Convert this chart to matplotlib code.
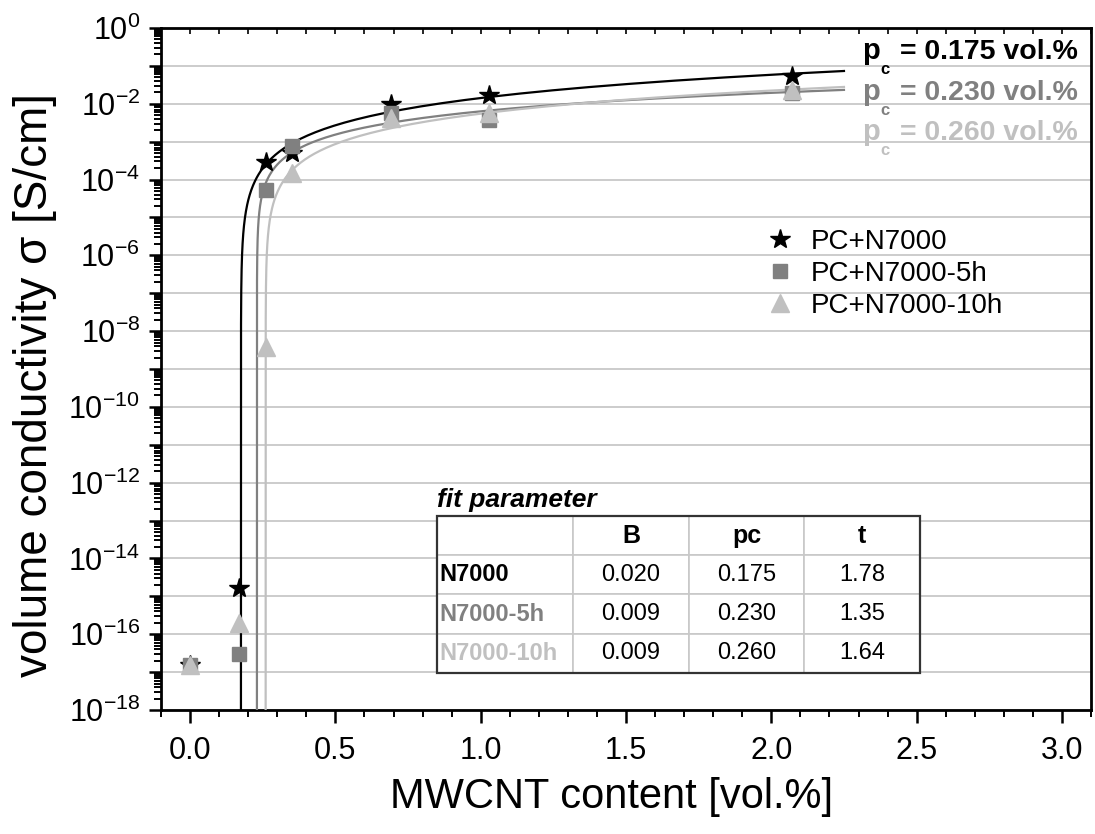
import matplotlib
matplotlib.use("Agg")
import matplotlib.pyplot as plt
import numpy as np
from matplotlib.ticker import LogLocator, MultipleLocator, FuncFormatter, NullFormatter

plt.rcParams["font.family"] = ["Liberation Sans", "DejaVu Sans"]
plt.rcParams["mathtext.fontset"] = "custom"
plt.rcParams["mathtext.rm"] = "Liberation Sans"
plt.rcParams["mathtext.it"] = "Liberation Sans:italic"
plt.rcParams["mathtext.bf"] = "Liberation Sans:bold"

# measured data -------------------------------------------------------------
content = [0.0, 0.17, 0.26, 0.35, 0.69, 1.03, 2.07]
sigma_n7000 = [1.5e-17, 1.7e-15, 2.9e-4, 5.0e-4, 1.0e-2, 1.7e-2, 5.4e-2]
sigma_5h = [1.5e-17, 3.0e-17, 5.3e-5, 7.8e-4, 5.7e-3, 3.7e-3, 1.9e-2]
sigma_10h = [1.5e-17, 2.0e-16, 3.8e-9, 1.5e-4, 4.2e-3, 5.6e-3, 2.3e-2]

# percolation fit parameters (sigma = B * (p - pc)^t) -----------------------
fit_names = ["N7000", "N7000-5h", "N7000-10h"]
fit_B = [0.020, 0.009, 0.009]
fit_pc = [0.175, 0.230, 0.260]
fit_t = [1.78, 1.35, 1.64]
fit_end = 2.25

labels = ["PC+N7000", "PC+N7000-5h", "PC+N7000-10h"]
colors = ["#000000", "#808080", "#c0c0c0"]
markers = ["*", "s", "^"]
msizes = [15, 9.5, 12.5]

fig = plt.figure(figsize=(10.95, 8.34), dpi=100)
fig.patch.set_facecolor("white")
ax = fig.add_axes([161 / 1095, 1 - 710 / 834, 930 / 1095, 682 / 834])

# fit curves
for B, pc, t, col in zip(fit_B, fit_pc, fit_t, colors):
    p = pc + np.logspace(-14, np.log10(fit_end - pc), 600)
    ax.plot(p, B * (p - pc) ** t, color=col, lw=1.6, zorder=3)

# data points (last series drawn on top, as in the original)
for ys, lab, col, m, ms in zip([sigma_n7000, sigma_5h, sigma_10h], labels, colors, markers, msizes):
    ax.plot(content, ys, ls="none", marker=m, ms=ms, color=col,
            markeredgecolor=col, label=lab, zorder=4)

ax.set_yscale("log")
ax.set_xlim(-0.1, 3.1)
ax.set_ylim(1e-18, 1e0)

# y ticks: every decade, labels every second decade
ax.yaxis.set_major_locator(LogLocator(base=10, numticks=40))
ax.yaxis.set_minor_locator(LogLocator(base=10, subs=np.arange(2, 10), numticks=40))
ax.yaxis.set_minor_formatter(NullFormatter())


def ylab(v, pos):
    e = int(round(np.log10(v)))
    return r"$10^{%d}$" % e if e % 2 == 0 else ""


ax.yaxis.set_major_formatter(FuncFormatter(ylab))
ax.xaxis.set_major_locator(MultipleLocator(0.5))
ax.xaxis.set_minor_locator(MultipleLocator(0.1))
ax.xaxis.set_major_formatter(FuncFormatter(lambda v, pos: f"{v:.1f}"))

ax.tick_params(which="major", direction="out", length=9, width=1.8, labelsize=22, pad=6)
ax.tick_params(axis="x", which="major", pad=10)
ax.tick_params(which="minor", direction="out", length=5, width=1.4)
for s in ax.spines.values():
    s.set_linewidth(2)

top = ax.secondary_xaxis("top")
top.xaxis.set_major_locator(MultipleLocator(0.1))
top.tick_params(direction="in", length=4, width=1.2, labelsize=0, labeltop=False)

ax.yaxis.grid(True, which="major", color="#c8c8c8", lw=1.3, zorder=0)
ax.set_axisbelow(True)

ax.set_xlabel("MWCNT content [vol.%]", fontsize=30)
ax.xaxis.set_label_coords(0.484, -0.098)
ax.set_ylabel("volume conductivity σ [S/cm]", fontsize=33)
ax.yaxis.set_label_coords(-0.112, 0.477)

# percolation threshold annotations
for i, (pc, col) in enumerate(zip(fit_pc, colors)):
    yb = 0.954 - i * 0.059
    kw = dict(transform=ax.transAxes, color=col, fontweight="bold",
              ha="left", va="baseline", zorder=5)
    ax.text(0.754, yb, "p", fontsize=21, **kw)
    ax.text(0.7735, yb - 0.022, "c", fontsize=12, **kw)
    ax.text(0.795, yb, f"= {pc:.3f} vol.%", fontsize=20.5, **kw)

leg = ax.legend(loc="upper left", bbox_to_anchor=(0.636, 0.722), frameon=False,
                fontsize=20, handletextpad=0.5, labelspacing=0.22,
                borderaxespad=0, handlelength=1.2)

# fit parameter table
ax.text(0.2968, 0.298, "fit parameter", transform=ax.transAxes, fontsize=19,
        fontweight="bold", style="italic", ha="left", va="baseline")
cell_text = [[f"{b:.3f}", f"{pc:.3f}", f"{t:.2f}"] for b, pc, t in zip(fit_B, fit_pc, fit_t)]
rows = [[""] + ["B", "pc", "t"]] + [[n] + r for n, r in zip(fit_names, cell_text)]
tx0, ty0, tx1, ty1 = 0.2968, 0.0543, 0.816, 0.2845
tab = ax.table(cellText=rows, cellLoc="center", bbox=[tx0, ty0, tx1 - tx0, ty1 - ty0],
               colWidths=[0.2816, 0.240, 0.238, 0.240], zorder=6)
tab.auto_set_font_size(False)
for (r, c), cell in tab.get_celld().items():
    cell.set_edgecolor("#c8c8c8")
    cell.set_linewidth(1.2)
    cell.set_facecolor("white")
    txt = cell.get_text()
    txt.set_fontsize(17)
    if r == 0:
        txt.set_fontweight("bold")
        txt.set_fontsize(18)
    if c == 0 and r > 0:
        txt.set_fontweight("bold")
        txt.set_color(colors[r - 1])
        txt.set_ha("left")
        cell.PAD = 0.02
    if c == 0:
        cell._loc = "left"
ax.add_patch(plt.Rectangle((tx0, ty0), tx1 - tx0, ty1 - ty0, transform=ax.transAxes,
                           fill=False, ec="#333333", lw=1.6, zorder=7))

fig.savefig("out.png", dpi=100, facecolor="white")
